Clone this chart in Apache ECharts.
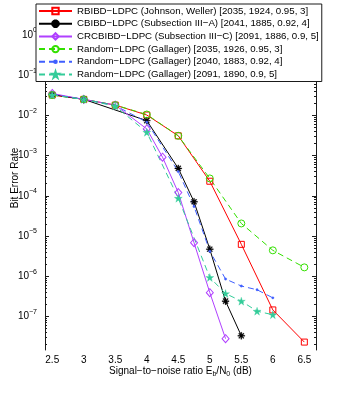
<!DOCTYPE html>
<html>
<head>
<meta charset="utf-8">
<script src="https://cdn.jsdelivr.net/npm/echarts@6/dist/echarts.min.js"></script>
<style>
html, body { margin: 0; padding: 0; background: #fff; }
#chart { width: 348px; height: 398px; }
</style>
</head>
<body>
<div id="chart"></div>
<script>
// Eb/N0 (dB) for each curve
var snrRbibd   = [2.5, 3, 3.5, 4, 4.5, 5, 5.5, 6, 6.5];
var snrCbibd   = [2.5, 3, 4, 4.5, 4.75, 5, 5.25, 5.5];
var snrCrcbibd = [2.5, 3, 3.5, 4, 4.25, 4.5, 4.75, 5, 5.25];
var snrRand3   = [2.5, 3, 3.5, 4, 4.5, 5, 5.5, 6, 6.5];
var snrRand4   = [2.5, 3, 3.5, 4, 4.5, 4.75, 5, 5.25, 5.5, 5.75, 6];
var snrRand5   = [2.5, 3, 3.5, 4, 4.5, 5, 5.25, 5.5, 5.75, 6];

// bit error rate
var berRbibd   = [3.2e-2, 2.5e-2, 1.8e-2, 1.02e-2, 3.1e-3, 2.3e-4, 6.2e-6, 1.45e-7, 2.3e-8];
var berCbibd   = [3.3e-2, 2.5e-2, 7.4e-3, 4.8e-4, 7.1e-5, 4.7e-6, 2.4e-7, 3.3e-8];
var berCrcbibd = [3.5e-2, 2.5e-2, 1.8e-2, 4.6e-3, 9.1e-4, 1.2e-4, 6.8e-6, 3.9e-7, 2.8e-8];
var berRand3   = [3.2e-2, 2.5e-2, 1.8e-2, 1.05e-2, 3.1e-3, 2.7e-4, 2.05e-5, 4.4e-6, 1.66e-6];
var berRand4   = [3.3e-2, 2.5e-2, 1.75e-2, 6.8e-3, 4.0e-4, 5.4e-5, 4.2e-6, 8.5e-7, 5.7e-7, 4.6e-7, 2.9e-7];
var berRand5   = [3.2e-2, 2.5e-2, 1.7e-2, 3.8e-3, 8.7e-5, 9.3e-7, 3.7e-7, 2.4e-7, 1.35e-7, 1.1e-7];

var names = [
    'RBIBD\u2212LDPC (Johnson, Weller) [2035, 1924, 0.95, 3]',
    'CBIBD\u2212LDPC (Subsection III\u2212A) [2041, 1885, 0.92, 4]',
    'CRCBIBD\u2212LDPC (Subsection III\u2212C) [2091, 1886, 0.9, 5]',
    'Random\u2212LDPC (Gallager) [2035, 1926, 0.95, 3]',
    'Random\u2212LDPC (Gallager) [2040, 1883, 0.92, 4]',
    'Random\u2212LDPC (Gallager) [2091, 1890, 0.9, 5]'
];
var xTicks = [2.5, 3, 3.5, 4, 4.5, 5, 5.5, 6, 6.5];
var yDecades = [-7, -6, -5, -4, -3, -2, -1, 0];

var FONT = 'Liberation Sans';
var xMin = 2.385, xMax = 6.685;
var yMin = -7.835, yMax = 0.72;   // log10 of BER

// minor log ticks 2..9 per decade
var yMinor = [];
for (var d = -8; d <= 0; d++) {
    for (var k = 2; k <= 9; k++) {
        var v = d + Math.log10(k);
        if (v > yMin && v < yMax) yMinor.push(v);
    }
}

function pts(xs, ys) {
    return xs.map(function (x, i) { return [x, Math.log10(ys[i])]; });
}

// marker shapes: asterisk, pentagram, small dot inside a 10x10 box
var asterisk = 'path://M4.3 0L5.7 0L5.7 10L4.3 10Z M0 4.3L10 4.3L10 5.7L0 5.7Z M2.0 1.0L9.0 8.0L8.0 9.0L1.0 2.0Z M8.0 1.0L9.0 2.0L2.0 9.0L1.0 8.0Z';
var star = 'path://M10 0L12.25 6.91L19.51 6.91L13.63 11.18L15.88 18.09L10 13.82L4.12 18.09L6.37 11.18L0.49 6.91L7.75 6.91Z';
var dot = 'path://M0 0M10 10M5 3A2 2 0 1 1 5 7A2 2 0 1 1 5 3Z';

function mkSeries(name, xs, ys, color, symbol, size, hollow, dashed) {
    return {
        name: name,
        type: 'line',
        data: pts(xs, ys),
        symbol: symbol,
        symbolSize: size,
        showSymbol: true,
        lineStyle: { color: color, width: 1, type: dashed ? [6, 4] : 'solid' },
        itemStyle: hollow ? { color: 'rgba(0,0,0,0)', borderColor: color, borderWidth: 1 }
                          : { color: color, borderColor: color, borderWidth: 0.3 },
        emphasis: { disabled: true },
        z: 3
    };
}

var axisLineStyle = { show: true, lineStyle: { color: '#1a1a1a', width: 1 } };

var chart = echarts.init(document.getElementById('chart'));
var option = {
    animation: false,
    backgroundColor: '#fff',
    textStyle: { fontFamily: FONT },
    grid: { left: 45, right: 32, top: 6, bottom: 48, containLabel: false, outerBoundsMode: 'none' },
    legend: {
        orient: 'vertical',
        left: 36,
        top: 4,
        padding: [2, 3, 2, 2],
        itemWidth: 33,
        itemHeight: 8,
        itemGap: 2.7,
        backgroundColor: '#fff',
        borderColor: '#1a1a1a',
        borderWidth: 1,
        selectedMode: false,
        z: 10,
        textStyle: { fontFamily: FONT, fontSize: 9.7, color: '#000' },
        data: names
    },
    xAxis: [{
        type: 'value',
        position: 'bottom',
        min: xMin, max: xMax,
        axisLine: axisLineStyle,
        axisTick: { inside: true, length: 4, customValues: xTicks, lineStyle: { color: '#1a1a1a' } },
        axisLabel: { customValues: xTicks, margin: 5, fontSize: 10, color: '#000', fontFamily: FONT },
        splitLine: { show: false },
        name: 'Signal\u2212to\u2212noise ratio E{sub|b}/N{sub|0} (dB)',
        nameLocation: 'middle',
        nameGap: 14,
        nameMoveOverlap: false,
        nameTextStyle: {
            fontFamily: FONT, fontSize: 10, color: '#000', lineHeight: 14,
            rich: { sub: { fontSize: 7, lineHeight: 7, verticalAlign: 'bottom', fontFamily: FONT, color: '#000' } }
        }
    }, {
        type: 'value',
        position: 'top',
        min: xMin, max: xMax,
        axisLine: axisLineStyle,
        axisTick: { inside: true, length: 4, customValues: xTicks, lineStyle: { color: '#1a1a1a' } },
        axisLabel: { show: false },
        splitLine: { show: false }
    }],
    yAxis: [{
        type: 'value',
        position: 'left',
        min: yMin, max: yMax,
        axisLine: axisLineStyle,
        axisTick: { inside: true, length: 4, customValues: yDecades, lineStyle: { color: '#1a1a1a' } },
        axisLabel: {
            customValues: yDecades,
            margin: 8,
            color: '#000',
            formatter: function (v) {
                var e = Math.round(v);
                return '{b|10}{s|' + (e < 0 ? '\u2212' + (-e) : e) + '}';
            },
            rich: {
                b: { fontSize: 10, lineHeight: 16, fontFamily: FONT, color: '#000' },
                s: { fontSize: 7, lineHeight: 8, verticalAlign: 'top', fontFamily: FONT, color: '#000' }
            }
        },
        splitLine: { show: false },
        name: 'Bit Error Rate',
        nameLocation: 'middle',
        nameGap: 25,
        nameMoveOverlap: false,
        nameTextStyle: { fontFamily: FONT, fontSize: 10, color: '#000' }
    }, {
        type: 'value',
        position: 'left',
        min: yMin, max: yMax,
        axisLine: { show: false },
        axisTick: { inside: true, length: 2, customValues: yMinor, lineStyle: { color: '#1a1a1a' } },
        axisLabel: { show: false },
        splitLine: { show: false }
    }, {
        type: 'value',
        position: 'right',
        min: yMin, max: yMax,
        axisLine: axisLineStyle,
        axisTick: { inside: true, length: 4, customValues: yDecades, lineStyle: { color: '#1a1a1a' } },
        axisLabel: { show: false },
        splitLine: { show: false }
    }, {
        type: 'value',
        position: 'right',
        min: yMin, max: yMax,
        axisLine: { show: false },
        axisTick: { inside: true, length: 2, customValues: yMinor, lineStyle: { color: '#1a1a1a' } },
        axisLabel: { show: false },
        splitLine: { show: false }
    }],
    series: [
        mkSeries(names[0], snrRbibd, berRbibd, '#ff0000', 'rect', 6, true, false),
        mkSeries(names[1], snrCbibd, berCbibd, '#000000', asterisk, 7, false, false),
        mkSeries(names[2], snrCrcbibd, berCrcbibd, '#b040ff', 'diamond', [7, 8], true, false),
        mkSeries(names[3], snrRand3, berRand3, '#33e000', 'circle', 7, true, true),
        mkSeries(names[4], snrRand4, berRand4, '#3f5fff', dot, 6, false, true),
        mkSeries(names[5], snrRand5, berRand5, '#33cc99', star, 8, false, true)
    ]
};
chart.setOption(option);
</script>
</body>
</html>
